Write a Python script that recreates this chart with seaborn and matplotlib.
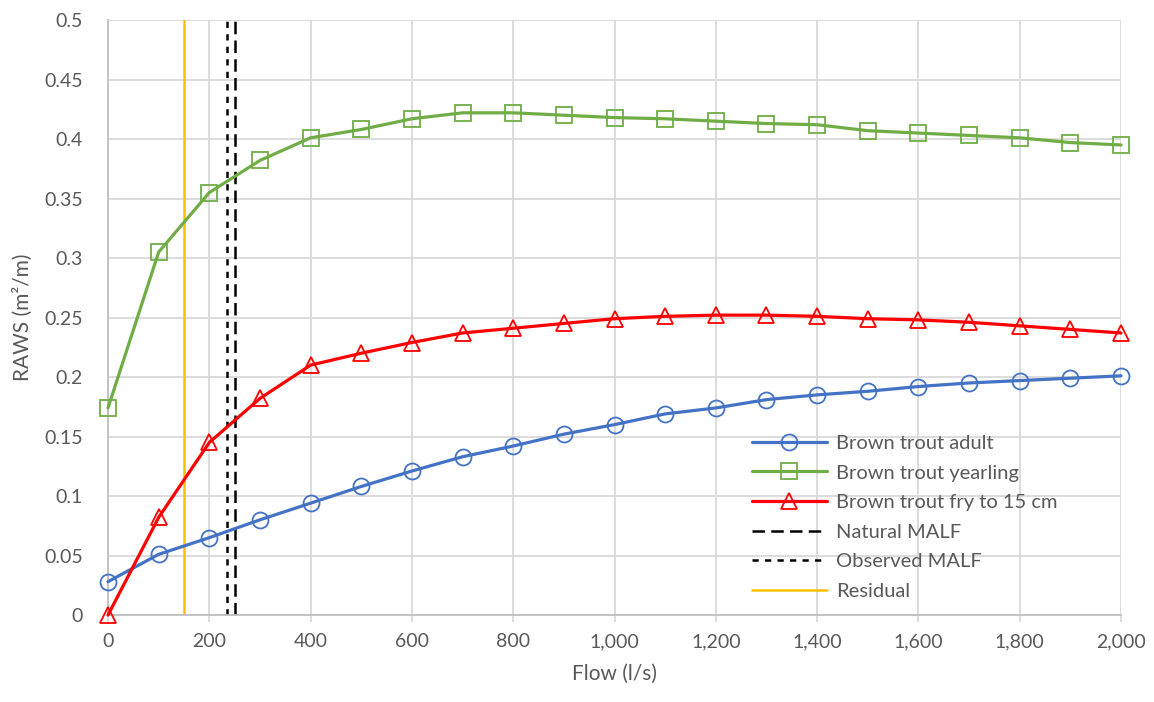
import matplotlib
matplotlib.use("Agg")
import matplotlib.pyplot as plt
import matplotlib.ticker as mticker
import seaborn as sns
import pandas as pd

flow = [0, 100, 200, 300, 400, 500, 600, 700, 800, 900, 1000,
        1100, 1200, 1300, 1400, 1500, 1600, 1700, 1800, 1900, 2000]
adult = [0.028, 0.051, 0.065, 0.080, 0.094, 0.108, 0.121, 0.133, 0.142, 0.152, 0.160,
         0.169, 0.174, 0.181, 0.185, 0.188, 0.192, 0.195, 0.197, 0.199, 0.201]
yearling = [0.174, 0.305, 0.355, 0.382, 0.401, 0.408, 0.417, 0.422, 0.422, 0.420, 0.418,
            0.417, 0.415, 0.413, 0.412, 0.407, 0.405, 0.403, 0.401, 0.397, 0.395]
fry = [0.0, 0.082, 0.145, 0.182, 0.210, 0.220, 0.229, 0.237, 0.241, 0.245, 0.249,
       0.251, 0.252, 0.252, 0.251, 0.249, 0.248, 0.246, 0.243, 0.240, 0.237]
natural_malf = 250
observed_malf = 235
residual = 150

series_names = ["Brown trout adult", "Brown trout yearling", "Brown trout fry to 15 cm"]
series_vals = [adult, yearling, fry]
series_colors = ["#4472C4", "#70AD47", "#FF0000"]
series_markers = ["o", "s", "^"]

sns.set_theme(style="white")
plt.rcParams['font.family'] = ['Lato', 'DejaVu Sans']
text_col = "#595959"

fig = plt.figure(figsize=(11.54, 7.02), dpi=100)
ax = fig.add_axes([0.0936, 0.1239, 0.8778, 0.8476])

for name, vals, col, mk in zip(series_names, series_vals, series_colors, series_markers):
    df = pd.DataFrame({"Flow": flow, "RAWS": vals})
    sns.lineplot(data=df, x="Flow", y="RAWS", ax=ax, color=col, linewidth=2.3,
                 marker=mk, markersize=11.5, markerfacecolor="none",
                 markeredgecolor=col, markeredgewidth=1.3, label=name, zorder=3,
                 clip_on=False)

ax.axvline(natural_malf, color="black", linewidth=1.8, linestyle=(0, (5, 2.5)), label="Natural MALF", zorder=2)
ax.axvline(observed_malf, color="black", linewidth=1.8, linestyle=(0, (2.5, 2.5)), label="Observed MALF", zorder=2)
ax.axvline(residual, color="#FFC000", linewidth=1.8, label="Residual", zorder=2)

ax.set_xlim(0, 2000)
ax.set_ylim(0, 0.5)
ax.set_xticks(range(0, 2001, 200))
ax.set_yticks([i * 0.05 for i in range(11)])
ax.xaxis.set_major_formatter(mticker.FuncFormatter(lambda v, p: f"{int(v):,}"))
ax.yaxis.set_major_formatter(mticker.FuncFormatter(lambda v, p: f"{round(v, 2):g}"))
ax.grid(True, color="#D9D9D9", linewidth=1.3)
ax.set_axisbelow(True)
for s in ["top", "right"]:
    ax.spines[s].set_visible(False)
for s in ["left", "bottom"]:
    ax.spines[s].set_color("#BFBFBF")
    ax.spines[s].set_linewidth(1.3)
ax.tick_params(axis="x", colors=text_col, labelsize=14, length=5, width=1.3, color="#D9D9D9", pad=8, direction="out", bottom=True)
ax.tick_params(axis="y", colors=text_col, labelsize=14, length=0, pad=18)
for lab in ax.get_yticklabels():
    lab.set_horizontalalignment("right")

ax.set_xlabel("Flow (l/s)", fontsize=15, color=text_col, labelpad=10)
ax.set_ylabel("RAWS (m²/m)", fontsize=15, color=text_col, labelpad=8)

leg = ax.legend(loc="lower right", bbox_to_anchor=(0.955, -0.005), frameon=False, fontsize=14.5,
                labelcolor=text_col, handlelength=3.7, handletextpad=0.45, labelspacing=0.62)

fig.savefig("out.png", dpi=100)
